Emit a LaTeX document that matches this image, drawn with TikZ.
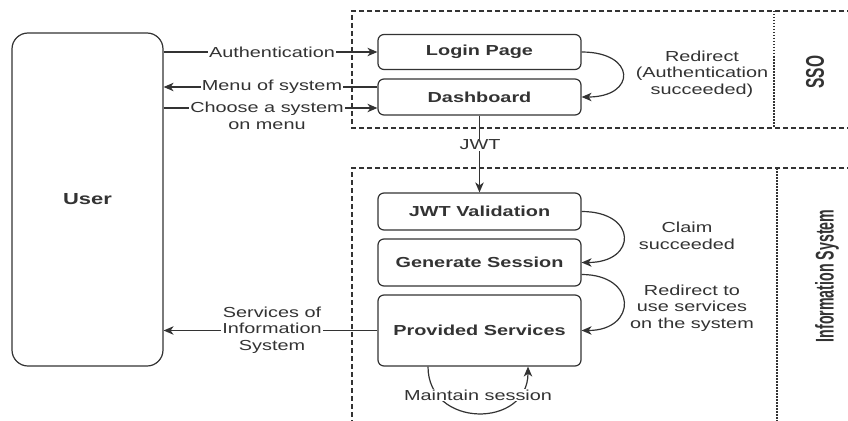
\documentclass[tikz,border=0pt]{standalone}
\usepackage{fontspec}
\setmainfont{Liberation Sans}[FakeStretch=1.37]
\newfontfamily\rotfont{Liberation Sans}
\usetikzlibrary{arrows.meta}
\definecolor{ink}{HTML}{333333}
\begin{document}
\begin{tikzpicture}[x=1pt,y=-1pt,
  every node/.style={text=ink},
  proc/.style={draw=ink, line width=1.2pt, rounded corners=6pt, minimum width=203pt, inner sep=0pt,
    font=\fontsize{14.5}{16.5}\selectfont\bfseries},
  actor/.style={draw=ink, line width=1.2pt, rounded corners=16pt, minimum width=151pt, minimum height=333pt,
    inner sep=0pt, font=\fontsize{16}{18}\selectfont\bfseries},
  conn/.style={draw=ink, line width=1.2pt, -{Stealth[length=10pt,width=8.5pt,inset=3pt]}},
  lbl/.style={fill=white, inner sep=1pt, align=center, font=\fontsize{14.5}{16.5}\selectfont},
  grp/.style={draw=ink, line width=1.2pt, dash pattern=on 5pt off 3pt},
  divline/.style={draw=ink, line width=1.2pt, dash pattern=on 1.5pt off 1.5pt},
  grplbl/.style={rotate=90, inner sep=0pt}]
\useasboundingbox[fill=white] (0,0) rectangle (848,420);

% groups
\draw[grp] (860,11) -- (352,11) -- (352,128) -- (860,128);
\draw[divline] (774,11) -- (774,128);
\node[grplbl] (ssolbl) at (815,72) {\scalebox{1}[1.65]{\rotfont\fontsize{15.5}{17}\selectfont\bfseries SSO}};
\draw[grp] (860,168) -- (352,168) -- (352,430);
\draw[divline] (777,168) -- (777,430);
\node[grplbl] (islbl) at (827,276) {\scalebox{1}[1.8]{\rotfont\fontsize{14.2}{16}\selectfont\bfseries Information System}};

% nodes
\node[actor] (user) at (87.5,199.5) {User};
\node[proc, minimum height=35pt] (login) at (479.5,52) {Login Page};
\node[proc, minimum height=36pt] (dash) at (479.5,97) {Dashboard};
\node[proc, minimum height=37pt] (jwt) at (479.5,211.5) {JWT Validation};
\node[proc, minimum height=47pt] (gen) at (479.5,262.5) {Generate Session};
\node[proc, minimum height=71pt] (prov) at (479.5,330.5) {Provided Services};

% helper coordinates
\path ([yshift=10pt]dash.west) coordinate (menuR);
\path ([yshift=-11pt]dash.west) coordinate (chooseR);
\path ([yshift=-12pt]gen.east) coordinate (genR);
\path ([xshift=-51.5pt]prov.south) coordinate (msA);
\path ([xshift=48.5pt]prov.south) coordinate (msB);

% connectors
\draw[conn] (user.east |- login.west) -- (login.west);
\draw[conn] (menuR) -- (user.east |- menuR);
\draw[conn] (user.east |- chooseR) -- (chooseR);
\draw[conn] (prov.west) -- (user.east |- prov.west);
\draw[conn] (dash.south) -- (jwt.north);
\draw[conn] (login.east) .. controls +(55,0) and +(55,0) .. (dash.east);
\draw[conn] (jwt.east) .. controls +(56,0) and +(56,0) .. (gen.east);
\draw[conn] (genR) .. controls +(56,0) and +(56,0) .. (prov.east);
\draw[conn] (msA) .. controls +(0,62) and +(0,62) .. (msB);

% labels
\node[lbl] (l1) at (272,52) {Authentication};
\node[lbl] (l2) at (272,87) {Menu of system};
\node[lbl] (l3) at (267,116) {Choose a system\\on menu};
\node[lbl] (l4) at (272,330) {Services of\\Information\\System};
\node[lbl] (l5) at (480,145) {JWT};
\node[lbl, fill=none] (l6) at (702,74) {Redirect\\(Authentication\\succeeded)};
\node[lbl, fill=none] (l7) at (687,236) {Claim\\succeeded};
\node[lbl, fill=none] (l8) at (692,308) {Redirect to\\use services\\on the system};
\node[lbl] (l9) at (478,395) {Maintain session};
\end{tikzpicture}
\end{document}
